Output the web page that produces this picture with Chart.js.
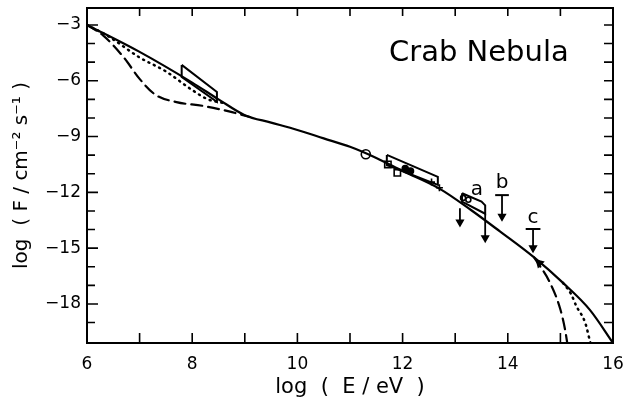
<!DOCTYPE html>
<html>
<head>
<meta charset="utf-8">
<script src="https://cdn.jsdelivr.net/npm/chart.js@4/dist/chart.umd.min.js"></script>
<style>
body{margin:0;background:#fff}
</style>
</head>
<body>
<canvas id="chart" width="626" height="403"></canvas>
<script>

// tick labels
let xTickLabels = [6,8,10,12,14,16]
let yTickLabels = [-3,-6,-9,-12,-15,-18]

// model spectrum (log E, log F)
let solidX = [6,7,8,8.5,9,9.5,10,10.5,11,11.5,12,12.7,13.3,13.85,14.5,15.05,15.56,16]
let solidY = [-3,-4.45,-6.1,-7.0,-7.85,-8.25,-8.65,-9.1,-9.55,-10.15,-10.85,-11.8,-12.95,-14.1,-15.5,-16.87,-18.32,-20.1]

let dotLX = [6,6.4,7,7.5,8,8.3,8.6]
let dotLY = [-3,-3.6,-4.75,-5.5,-6.5,-7.0,-7.2]
let dashLX = [6,6.3,6.7,7,7.3,7.7,8.2,8.7,9.1]
let dashLY = [-3,-3.55,-4.75,-5.9,-6.75,-7.15,-7.35,-7.65,-7.95]

let dashRX = [14.5,14.8,15.0,15.09,15.13]
let dashRY = [-15.5,-16.85,-18.3,-19.4,-20.1]
let dotRX = [15.05,15.2,15.3,15.47,15.57]
let dotRY = [-16.87,-17.45,-18.1,-19.0,-20.1]

// measurement boxes
let boxOptX = [7.8,8.47,8.47,7.8,7.8]
let boxOptY = [-5.15,-6.6,-7.14,-5.8,-5.15]
let boxMidX = [11.7,12.67,12.67,11.7,11.7]
let boxMidY = [-9.99,-11.17,-11.6,-10.53,-9.99]
let boxAX = [13.13,13.5,13.57,13.57,13.13,13.13]
let boxAY = [-12.05,-12.5,-12.7,-13.15,-12.5,-12.05]

// data points
let circX = [11.3], circY = [-9.95]
let sqX = [11.72,11.9], sqY = [-10.5,-10.95]
let dotX = [12.05,12.15], dotY = [-10.72,-10.85]
let crossX = [12.55,12.7], crossY = [-11.45,-11.75]
let smallX = [13.15,13.25], smallY = [-12.3,-12.4]
let headX = [14.6], headY = [-15.8]

// upper limits
let arrowX = [13.09,13.57,13.89,14.48]
let arrowTop = [-12.85,-13.15,-12.15,-13.97]
let arrowTip = [-13.6,-14.45,-13.3,-14.99]
let barX0 = [13.76,14.34]
let barX1 = [14.02,14.62]
let barY = [-12.15,-13.97]

// text
let noteText = ["Crab Nebula","a","b","c"]
let noteX = [13.45,13.41,13.89,14.48]
let noteY = [-4.55,-11.85,-11.5,-13.38]

function pts(xs,ys){
return xs.map((v,i)=>({x:v,y:ys[i]}))
}

function curve(xs,ys,dash,w){
return {data:pts(xs,ys),showLine:true,borderColor:"#000",borderWidth:w,borderDash:dash,
pointRadius:0,cubicInterpolationMode:"monotone",borderCapStyle:"round",fill:false}
}

function poly(xs,ys){
return {data:pts(xs,ys),showLine:true,borderColor:"#000",borderWidth:2,pointRadius:0,tension:0,fill:false}
}

function marks(xs,ys,style,r,bg){
return {data:pts(xs,ys),showLine:false,pointStyle:style,pointRadius:r,
pointBorderColor:"#000",pointBackgroundColor:bg,pointBorderWidth:1.6}
}

let head = marks(headX,headY,"triangle",4,"#000")
head.rotation = -45

let datasets = [
curve(solidX,solidY,[],2.2),
curve(dotLX,dotLY,[1,5],2.5),
curve(dashLX,dashLY,[11,6],2.2),
curve(dashRX,dashRY,[11,6],2.2),
curve(dotRX,dotRY,[1,5],2.5),
poly(boxOptX,boxOptY),
poly(boxMidX,boxMidY),
poly(boxAX,boxAY),
marks(circX,circY,"circle",4.5,"#fff"),
marks(sqX,sqY,"rect",4.5,"#fff"),
marks(dotX,dotY,"circle",3,"#000"),
marks(crossX,crossY,"cross",3.5,"#000"),
marks(smallX,smallY,"circle",2.5,"#fff"),
head
]

arrowX.forEach((v,i)=>{
datasets.push({data:[{x:v,y:arrowTop[i]},{x:v,y:arrowTip[i]}],showLine:true,borderColor:"#000",borderWidth:1.8,
pointStyle:"triangle",rotation:180,pointRadius:[0,3.5],pointBackgroundColor:"#000",pointBorderColor:"#000"})
})

barX0.forEach((v,i)=>{
datasets.push({data:[{x:v,y:barY[i]},{x:barX1[i],y:barY[i]}],showLine:true,borderColor:"#000",borderWidth:2,pointRadius:0})
})

const frame = {
id:"frame",
afterDatasetsDraw(chart){
let ctx = chart.ctx
let a = chart.chartArea
let x = chart.scales.x
let y = chart.scales.y
ctx.save()
ctx.strokeStyle = "#000"
ctx.lineWidth = 2
ctx.strokeRect(a.left,a.top,a.right-a.left,a.bottom-a.top)
ctx.lineWidth = 1.6
ctx.beginPath()
for(let v=7;v<=15;v++){
let px = x.getPixelForValue(v)
ctx.moveTo(px,a.bottom); ctx.lineTo(px,a.bottom-10)
ctx.moveTo(px,a.top); ctx.lineTo(px,a.top+8)
}
for(let v=-19;v<=-3;v++){
let py = y.getPixelForValue(v)
let len = v%3===0 ? 11 : 8
ctx.moveTo(a.left,py); ctx.lineTo(a.left+len,py)
ctx.moveTo(a.right,py); ctx.lineTo(a.right-9,py)
}
ctx.stroke()
ctx.fillStyle = "#000"
ctx.textAlign = "center"
ctx.textBaseline = "middle"
noteText.forEach((t,i)=>{
ctx.font = (i===0 ? "29px" : "20px") + " 'DejaVu Sans'"
ctx.fillText(t,x.getPixelForValue(noteX[i]),y.getPixelForValue(noteY[i]))
})
ctx.restore()
}
}

function noPad(s){
s.paddingLeft = 0
s.paddingRight = 0
s.paddingTop = 0
s.paddingBottom = 0
}

new Chart(document.getElementById("chart"),{
type:"scatter",
data:{datasets:datasets},
options:{
responsive:false,
animation:false,
devicePixelRatio:1,
layout:{padding:{top:8,right:13,left:0,bottom:0}},
plugins:{legend:{display:false},tooltip:{enabled:false}},
scales:{
x:{
type:"linear",min:6,max:16,
afterBuildTicks:s=>{s.ticks = xTickLabels.map(v=>({value:v}))},
afterFit:s=>{s.height = 60; noPad(s)},
grid:{display:false,drawTicks:false},
border:{display:false},
ticks:{color:"#000",padding:11,maxRotation:0,font:{family:"DejaVu Sans",size:17}},
title:{display:true,text:"log  (  E / eV  )",color:"#000",padding:{top:0,bottom:3},font:{family:"DejaVu Sans",size:21}}
},
y:{
type:"linear",min:-20.1,max:-2.09,
afterBuildTicks:s=>{s.ticks = yTickLabels.map(v=>({value:v}))},
afterFit:s=>{s.width = 87; noPad(s)},
grid:{display:false,drawTicks:false},
border:{display:false},
ticks:{color:"#000",padding:6,font:{family:"DejaVu Sans",size:17},callback:v=>"\u2212"+Math.abs(v)},
title:{display:true,text:"log  ( F / cm\u207B\u00B2 s\u207B\u00B9 )",color:"#000",padding:{top:10,bottom:0},font:{family:"DejaVu Sans",size:20}}
}
}
},
plugins:[frame]
})

</script>
</body>
</html>
